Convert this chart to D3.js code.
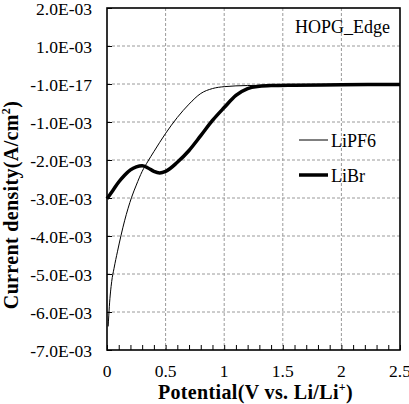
<!DOCTYPE html>
<html>
<head>
<meta charset="utf-8">
<script src="https://cdn.jsdelivr.net/npm/d3@7"></script>
<style>
  body { margin: 0; background: #fff; }
  svg { display: block; }
  svg text { font-family: 'Liberation Serif', 'Times New Roman', Times, 'DejaVu Serif', serif; }
</style>
</head>
<body>
<svg id="chart"></svg>
<script>
(function() {

// potential (V) and current density (E-03 A/cm2)
const lipf6X = [0.01, 0.02, 0.04, 0.06, 0.09, 0.12, 0.15, 0.18, 0.21, 0.25, 0.3, 0.35, 0.4, 0.5, 0.6, 0.7, 0.8, 0.9, 1.0, 1.2, 1.5, 2.0, 2.5];
const lipf6Y = [-6.38, -5.85, -5.2, -4.85, -4.4, -3.98, -3.6, -3.27, -2.98, -2.66, -2.3, -2.03, -1.78, -1.3, -0.88, -0.53, -0.25, -0.12, -0.07, -0.04, -0.03, -0.02, -0.01];

const librX = [0, 0.05, 0.1, 0.15, 0.2, 0.25, 0.3, 0.35, 0.4, 0.45, 0.5, 0.6, 0.7, 0.8, 0.9, 1.0, 1.1, 1.2, 1.3, 1.4, 1.6, 2.0, 2.5];
const librY = [-3.02, -2.8, -2.58, -2.4, -2.26, -2.18, -2.15, -2.21, -2.3, -2.34, -2.3, -2.06, -1.75, -1.36, -0.96, -0.62, -0.3, -0.12, -0.06, -0.04, -0.03, -0.02, -0.01];

const yTicks = [2, 1, 0, -1, -2, -3, -4, -5, -6, -7];
const yTickLabels = ["2.0E-03", "1.0E-03", "-1.0E-17", "-1.0E-03", "-2.0E-03", "-3.0E-03", "-4.0E-03", "-5.0E-03", "-6.0E-03", "-7.0E-03"];
const xTicks = [0, 0.5, 1, 1.5, 2, 2.5];
const xTickLabels = ["0", "0.5", "1", "1.5", "2", "2.5"];
const seriesNames = ["LiPF6", "LiBr"];

const W = 409, H = 404;
const margin = { top: 8, right: 9, bottom: 54, left: 107 };
const width = W - margin.left - margin.right;
const height = H - margin.top - margin.bottom;
const serif = "'Liberation Serif', 'Times New Roman', Times, 'DejaVu Serif', serif";

const svg = d3.select("#chart").attr("width", W).attr("height", H)
    .attr("font-family", serif);
const g = svg.append("g").attr("transform", `translate(${margin.left},${margin.top})`);

const x = d3.scaleLinear().domain([0, 2.5]).range([0, width]);
const y = d3.scaleLinear().domain([-7, 2]).range([height, 0]);

// dashed grid
g.append("g")
    .selectAll("line")
    .data(yTicks.filter(d => d > -7 && d < 2))
    .enter().append("line")
    .attr("x1", 0).attr("x2", width)
    .attr("y1", d => y(d)).attr("y2", d => y(d))
    .attr("stroke", "#9a9a9a").attr("stroke-width", 1)
    .attr("stroke-dasharray", "3,2");

g.append("g")
    .selectAll("line")
    .data(xTicks.filter(d => d > 0 && d < 2.5))
    .enter().append("line")
    .attr("x1", d => x(d)).attr("x2", d => x(d))
    .attr("y1", 0).attr("y2", height)
    .attr("stroke", "#9a9a9a").attr("stroke-width", 1)
    .attr("stroke-dasharray", "3,2");

// minor ticks on x axis, pointing inward
g.append("g")
    .attr("transform", `translate(0,${height})`)
    .call(d3.axisTop(x).tickValues(d3.range(0, 26).map(d => d / 10)).tickSize(5).tickFormat(""))
    .call(a => a.select(".domain").remove())
    .selectAll("line").attr("stroke", "#000");

g.append("g")
    .call(d3.axisRight(y).tickValues(yTicks).tickSize(5).tickFormat(""))
    .call(a => a.select(".domain").remove())
    .selectAll("line").attr("stroke", "#000");

// plot box
g.append("rect")
    .attr("x", 0).attr("y", 0)
    .attr("width", width).attr("height", height)
    .attr("fill", "none").attr("stroke", "#000").attr("stroke-width", 1.6);

// tick labels
g.append("g")
    .selectAll("text")
    .data(yTicks)
    .enter().append("text")
    .attr("x", -15)
    .attr("y", d => y(d) + 7)
    .attr("text-anchor", "end")
    .attr("font-size", "17.5px")
    .text((d, i) => yTickLabels[i]);

g.append("g")
    .selectAll("text")
    .data(xTicks)
    .enter().append("text")
    .attr("x", d => x(d))
    .attr("y", height + 27)
    .attr("text-anchor", "middle")
    .attr("font-size", "17.5px")
    .text((d, i) => xTickLabels[i]);

// curves
const line = d3.line()
    .x(d => x(d[0]))
    .y(d => y(d[1]))
    .curve(d3.curveMonotoneX);

g.append("path")
    .datum(d3.zip(lipf6X, lipf6Y))
    .attr("d", line)
    .attr("fill", "none").attr("stroke", "#000").attr("stroke-width", 1);

g.append("path")
    .datum(d3.zip(librX, librY))
    .attr("d", line)
    .attr("fill", "none").attr("stroke", "#000").attr("stroke-width", 3.5)
    .attr("stroke-linejoin", "round");

// annotation and legend
svg.append("text")
    .attr("x", 295).attr("y", 33)
    .attr("font-size", "18px")
    .text("HOPG_Edge");

const legend = svg.append("g");
const legendY = [140, 175];
const legendW = [1, 3.5];
seriesNames.forEach((name, i) => {
    legend.append("line")
        .attr("x1", 299).attr("x2", 328)
        .attr("y1", legendY[i]).attr("y2", legendY[i])
        .attr("stroke", "#000").attr("stroke-width", legendW[i]);
    legend.append("text")
        .attr("x", 331).attr("y", legendY[i] + 7)
        .attr("font-size", "18px")
        .text(name);
});

// axis titles
const xTitle = svg.append("text")
    .attr("x", margin.left + width / 2 + 2)
    .attr("y", 399)
    .attr("text-anchor", "middle")
    .attr("font-size", "20px")
    .attr("letter-spacing", "0.35px")
    .attr("font-weight", "bold");
xTitle.append("tspan").text("Potential(V vs. Li/Li");
xTitle.append("tspan").attr("font-size", "12px").attr("dy", -8).text("+");
xTitle.append("tspan").attr("dy", 8).text(")");

const yTitle = svg.append("text")
    .attr("transform", "translate(18,205) rotate(-90)")
    .attr("text-anchor", "middle")
    .attr("font-size", "20px")
    .attr("letter-spacing", "0.35px")
    .attr("font-weight", "bold");
yTitle.append("tspan").text("Current density(A/cm");
yTitle.append("tspan").attr("font-size", "12px").attr("dy", -8).text("2");
yTitle.append("tspan").attr("dy", 8).text(")");

})();
</script>
</body>
</html>
